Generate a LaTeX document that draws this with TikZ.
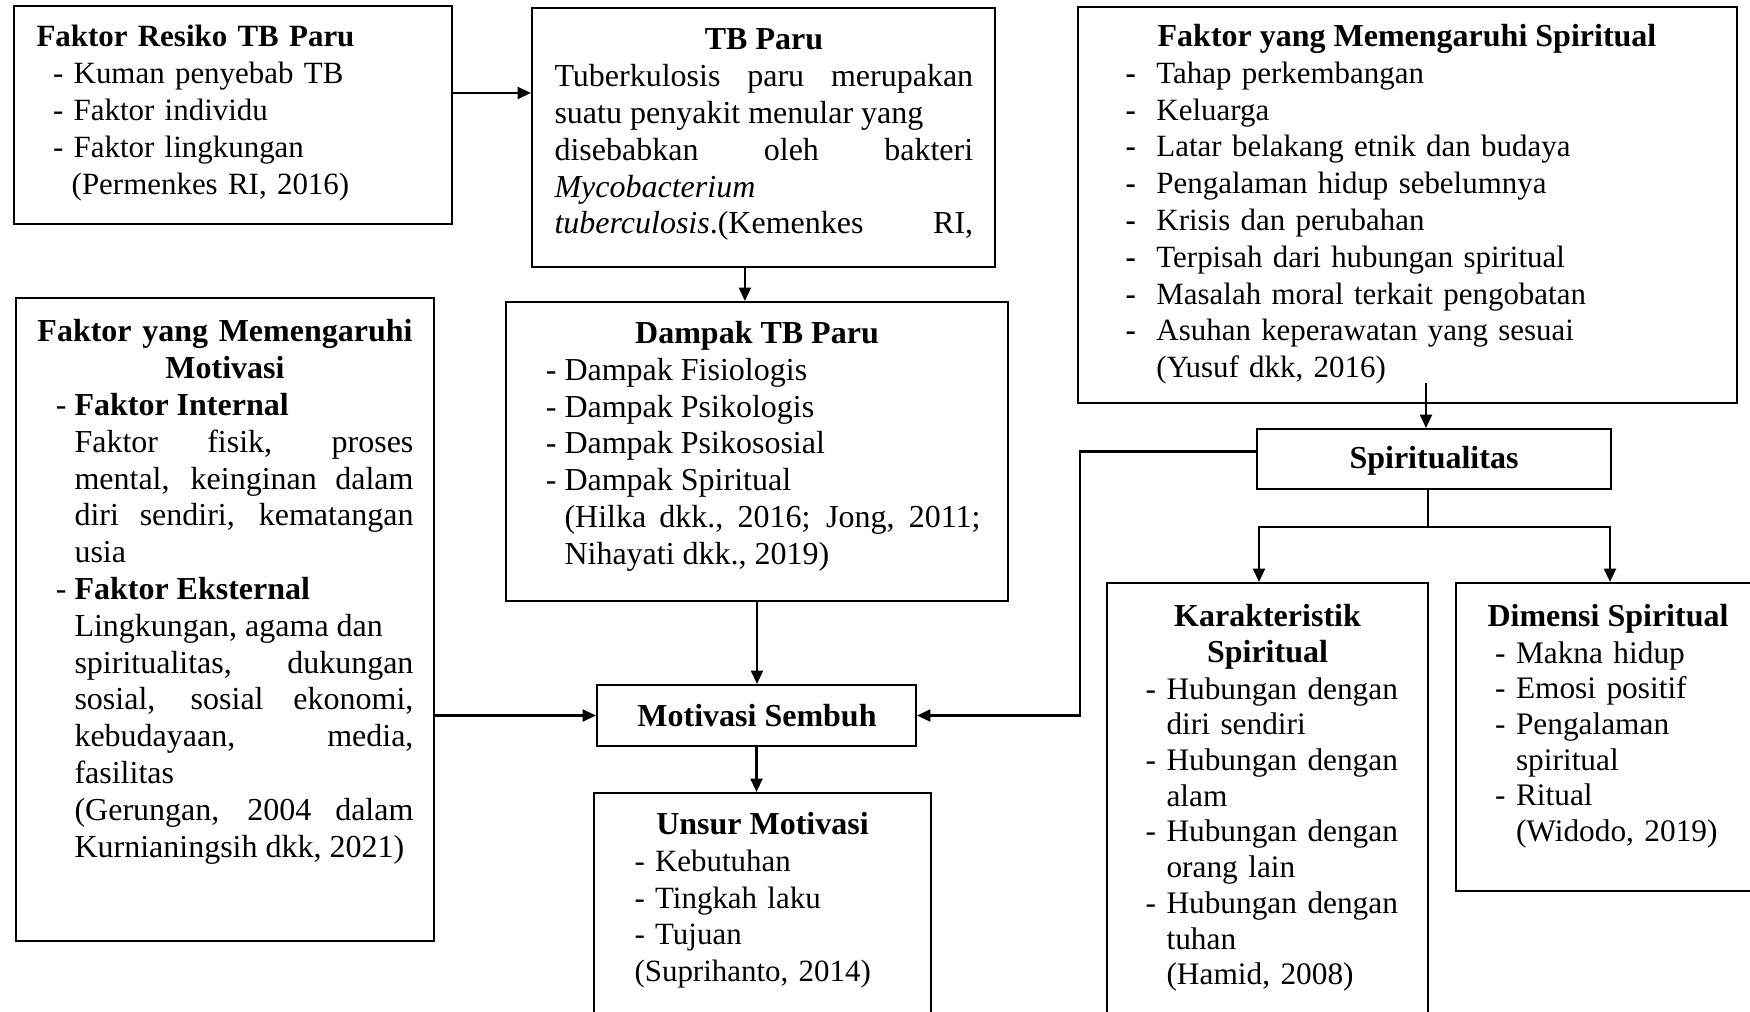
\documentclass[tikz,border=0pt]{standalone}
\usepackage{fontspec}
\setmainfont{Liberation Serif}
\usetikzlibrary{arrows.meta,calc,fit}
\newcommand{\ukuran}{\fontsize{12}{13.8}\selectfont}
\newcommand{\ukuranramping}{\fontsize{11.6}{13.8}\selectfont}
\newcommand{\ukurankecil}{\fontsize{11.75}{13.4}\selectfont}
\newcommand{\butir}[1]{\makebox[#1][l]{-}}
\newcommand{\butirkiri}{\leavevmode\llap{- }}
\tikzset{
  blok/.style={draw, line width=0.8pt, inner sep=0pt},
  judul/.style={inner sep=0pt, anchor=base, align=center, font=\ukuran\bfseries},
  isi/.style={inner sep=0pt, anchor=base west, align=left, font=\ukuran},
  panah/.style={line width=0.8pt, -{Triangle[length=5pt,width=4.5pt]}}
}

\begin{document}
\begin{tikzpicture}[x={(0.375pt,0)}, y={(0,-0.375pt)}]
			%%%%% START %%%%%
			\useasboundingbox (0,0) rectangle (1750,1012);
			
			\node[blok, fit={(14,6) (452,224)}] (resiko) {};
			\node[isi, text width=150pt, font=\ukuranramping] (resikoisi) at (36,47) {\textbf{Faktor Resiko TB Paru}\\
				\hspace*{6.2pt}- Kuman penyebab TB\\
				\hspace*{6.2pt}- Faktor individu\\
				\hspace*{6.2pt}- Faktor lingkungan\\
				\hspace*{13.2pt}(Permenkes RI, 2016)};
			
			\node[blok, fit={(532,8) (995,267)}] (tbparu) {};
			\node[judul] (tbparuj) at (764,50) {TB Paru};
			\node[isi, align=justify, text width=157pt] (tbparuisi) at (554,86.8) {Tuberkulosis paru merupakan\linebreak
				suatu penyakit menular yang\\
				disebabkan oleh bakteri\linebreak
				\textit{Mycobacterium}\\
				\textit{tuberculosis}.(Kemenkes\hfill RI,};
			
			\node[blok, fit={(1078,7) (1737,403)}] (fspirit) {};
			\node[judul] (fspiritj) at (1407,46.5) {Faktor yang Memengaruhi Spiritual};
			\node[isi, text width=220pt, font=\ukuranramping] (fspiritisi) at (1125,83.3) {\textbf{\butir{11.6pt}}Tahap perkembangan\\
				\textbf{\butir{11.6pt}}Keluarga\\
				\textbf{\butir{11.6pt}}Latar belakang etnik dan budaya\\
				\textbf{\butir{11.6pt}}Pengalaman hidup sebelumnya\\
				\textbf{\butir{11.6pt}}Krisis dan perubahan\\
				\textbf{\butir{11.6pt}}Terpisah dari hubungan spiritual\\
				\textbf{\butir{11.6pt}}Masalah moral terkait pengobatan\\
				\textbf{\butir{11.6pt}}Asuhan keperawatan yang sesuai\\
				\hspace*{11.6pt}(Yusuf dkk, 2016)};
			
			\node[blok, fit={(16,298) (434,941)}] (fmotiv) {};
			\node[judul, text width=160pt] (fmotivj) at (225,342) {Faktor yang Memengaruhi\\ Motivasi};
			\node[isi, align=justify, text width=127.1pt] (fmotivisi) at (74,415.6) {\butirkiri\textbf{Faktor Internal}\\
				Faktor fisik, proses\linebreak
				mental, keinginan dalam\linebreak
				diri sendiri, kematangan\linebreak
				usia\\
				\butirkiri\textbf{Faktor Eksternal}\\
				Lingkungan, agama dan\\
				spiritualitas, dukungan\linebreak
				sosial, sosial ekonomi,\linebreak
				kebudayaan, media,\linebreak
				fasilitas\\
				(Gerungan, 2004 dalam\linebreak
				Kurnianingsih dkk, 2021)};
			
			\node[blok, fit={(506,302) (1008,601)}] (dampak) {};
			\node[judul] (dampakj) at (757,343.5) {Dampak TB Paru};
			\node[isi, align=justify, text width=156pt] (dampakisi) at (564,380.3) {\butirkiri Dampak Fisiologis\\
				\butirkiri Dampak Psikologis\\
				\butirkiri Dampak Psikososial\\
				\butirkiri Dampak Spiritual\\
				(Hilka dkk., 2016; Jong, 2011;\linebreak
				Nihayati dkk., 2019)};
			
			\node[blok, fit={(597,685) (916,746)}] (sembuh) {};
			\node[judul] (sembuhj) at (757,726) {Motivasi Sembuh};
			
			\node[blok, fit={(594,793) (931,1030)}] (unsur) {};
			\node[judul] (unsurj) at (762.5,834.5) {Unsur Motivasi};
			\node[isi, text width=120pt, font=\ukuranramping] (unsurisi) at (634,871.3) {- Kebutuhan\\
				- Tingkah laku\\
				- Tujuan\\
				(Suprihanto, 2014)};
			
			\node[blok, fit={(1257,429) (1611,489)}] (spirit) {};
			\node[judul] (spiritj) at (1434,468) {Spiritualitas};
			
			\node[blok, fit={(1107,583) (1428,1030)}] (karakter) {};
			\node[judul, text width=120pt] (karakterj) at (1267.5,626) {Karakteristik\\ Spiritual};
			\node[isi, text width=100pt, font=\ukurankecil] (karakterisi) at (1166,699) {\butirkiri Hubungan dengan\\
				diri sendiri\\
				\butirkiri Hubungan dengan\\
				alam\\
				\butirkiri Hubungan dengan\\
				orang lain\\
				\butirkiri Hubungan dengan\\
				tuhan\\
				(Hamid, 2008)};
			
			\node[blok, fit={(1456,583) (1770,891)}] (dimensi) {};
			\node[judul] (dimensij) at (1608,626) {Dimensi Spiritual};
			\node[isi, text width=100pt, font=\ukurankecil] (dimensiisi) at (1515.5,663) {\butirkiri Makna hidup\\
				\butirkiri Emosi positif\\
				\butirkiri Pengalaman\\
				spiritual\\
				\butirkiri Ritual\\
				(Widodo, 2019)};
			
			% panah
			\draw[panah] ($(resiko.north east)!0.4!(resiko.south east)$) coordinate (p1) -- (p1 -| tbparu.west);
			\draw[panah] ($(tbparu.south west)!0.46!(tbparu.south east)$) coordinate (p2) -- (p2 |- dampak.north);
			\draw[panah] (dampak.south) -- (dampak.south |- sembuh.north);
			\draw[panah] (sembuh.south) -- (sembuh.south |- unsur.north);
			\draw[panah] (sembuh.west -| fmotiv.east) -- (sembuh.west);
			
			\coordinate (belok) at (1080,0);
			\draw[panah] ($(spirit.north west)!0.38!(spirit.south west)$) coordinate (p3) -- (p3 -| belok) -- (belok |- sembuh.east) -- (sembuh.east);
			
			\coordinate (k3) at (1426,383);
			\draw[panah] (k3) -- (k3 |- spirit.north);
			
			\coordinate (cabang) at (1428,527);
			\coordinate (kiri) at (1259,0);
			\coordinate (kanan) at (1610,0);
			\draw[line width=0.8pt] (cabang |- spirit.south) -- (cabang);
			\draw[panah] (cabang) -| (kiri |- karakter.north);
			\draw[panah] (cabang) -| (kanan |- dimensi.north);
			
			%%%%% END %%%%%
\end{tikzpicture}
\end{document}
